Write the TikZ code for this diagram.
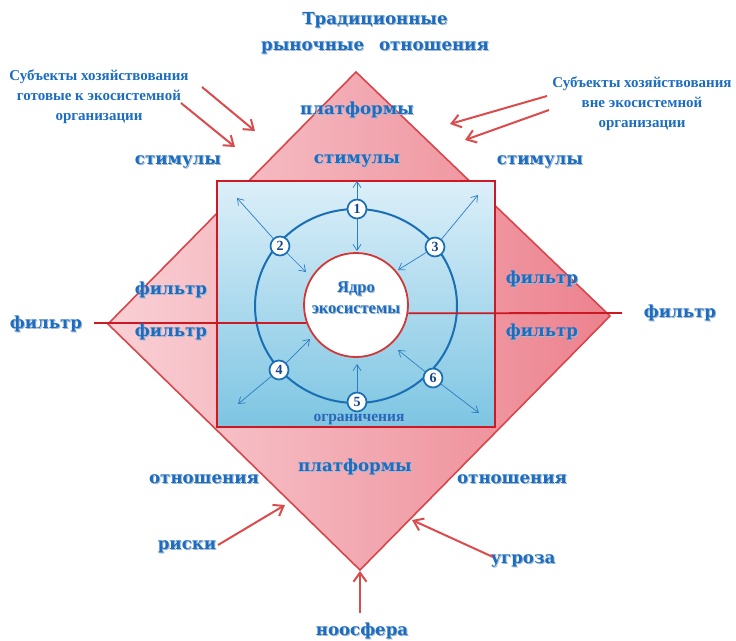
\documentclass[tikz,border=0pt]{standalone}
\usepackage{fontspec}
\setmainfont{Liberation Serif}
\newfontfamily\dvs{DejaVu Serif}
\usetikzlibrary{arrows.meta}
\definecolor{tblue}{RGB}{28,108,192}
\definecolor{shc}{RGB}{165,185,210}
\definecolor{nblue}{RGB}{20,70,140}
\definecolor{cblue}{RGB}{25,110,180}
\definecolor{ablue}{RGB}{45,125,195}
\definecolor{dred}{RGB}{215,70,75}
\definecolor{sqred}{RGB}{205,25,35}
\definecolor{cred}{RGB}{210,55,55}
\definecolor{ared}{RGB}{220,75,75}
\definecolor{pinkL}{RGB}{249,208,213}
\definecolor{pinkR}{RGB}{236,130,142}
\definecolor{sqT}{RGB}{220,239,249}
\definecolor{sqB}{RGB}{125,197,226}
\newcommand\shd[1]{\leavevmode\rlap{\kern1pt\raisebox{-1pt}{\textcolor{shc}{#1}}}#1}
\begin{document}
\begin{tikzpicture}[x=1pt,y=-1pt,
  lbl/.style={text=tblue, font=\dvs\bfseries\fontsize{16.6}{20}\selectfont, inner sep=0pt},
  small/.style={text=tblue, font=\bfseries\fontsize{15}{20}\selectfont, inner sep=0pt, align=center},
  num/.style={circle, draw=cblue, line width=1.7pt, fill=white, minimum size=19pt, inner sep=0pt, text=nblue, font=\bfseries\fontsize{14}{14}\selectfont},
  barrow/.style={draw=ablue, line width=0.7pt, -{Straight Barb[length=6pt,width=8pt]}},
  rarrow/.style={draw=ared, line width=2pt, -{Straight Barb[length=9pt,width=13pt]}},
  redline/.style={draw=sqred, line width=1.8pt}]
\useasboundingbox (0,0) rectangle (736,640);
% diamond
\shade[left color=pinkL, right color=pinkR, draw=dred, line width=1.6pt]
  (356,72) -- (610,316) -- (360,570) -- (108,324) -- cycle;
% square
\shade[top color=sqT, bottom color=sqB, draw=sqred, line width=2.5pt]
  (217,181) rectangle (495,427);
% ring
\draw[cblue, line width=2pt] (356,306) ellipse [x radius=101, y radius=97];
% core
\node[circle, draw=cred, fill=white, line width=1.8pt, minimum size=104pt, inner sep=0pt] (core) at (356,305) {};
\node[text=tblue, font=\bfseries\fontsize{16.5}{16}\selectfont, inner sep=0pt] (core1) at (356,289) {\shd{Ядро}};
\node[text=tblue, font=\bfseries\fontsize{16.5}{16}\selectfont, inner sep=0pt] (core2) at (356,310) {\shd{экосистемы}};
% horizontal line
\coordinate (hl) at (94,323);
\coordinate (hr) at (622,313);
\draw[redline] (hl) -- (core.200);
\draw[redline] (core.-9) -- (hr);
% number circles
\node[num] (n1) at (357,209) {1};
\node[num] (n2) at (280,246) {2};
\node[num] (n3) at (435,247) {3};
\node[num] (n4) at (279,370) {4};
\node[num] (n5) at (357,402) {5};
\node[num] (n6) at (433,378) {6};
\coordinate (a1o) at (357,181);
\coordinate (a1i) at (357,251);
\coordinate (a2o) at (237,198);
\coordinate (a2i) at (306,272);
\coordinate (a3o) at (478,195);
\coordinate (a3i) at (398,270);
\coordinate (a4o) at (238,404);
\coordinate (a4i) at (310,339);
\coordinate (a5i) at (357,364);
\coordinate (a6o) at (479,413);
\coordinate (a6i) at (398,350);
\draw[barrow] (n1) -- (a1o);
\draw[barrow] (n1) -- (a1i);
\draw[barrow] (n2) -- (a2o);
\draw[barrow] (n2) -- (a2i);
\draw[barrow] (n3) -- (a3o);
\draw[barrow] (n3) -- (a3i);
\draw[barrow] (n4) -- (a4o);
\draw[barrow] (n4) -- (a4i);
\draw[barrow] (n5) -- (a5i);
\draw[barrow] (n6) -- (a6o);
\draw[barrow] (n6) -- (a6i);
\node[text=tblue, font=\bfseries\fontsize{15.5}{15}\selectfont, inner sep=0pt] (ogr) at (359,420) {\shd{ограничения}};
% top texts
\node[lbl] (t1) at (375,21) {\shd{Традиционные}};
\node[lbl] (t2) at (375,48) {\shd{рыночные\hspace{0.9em}отношения}};
\node[small] (sl) at (99,97) {Субъекты хозяйствования\\готовые к экосистемной\\организации};
\node[small] (sr) at (642,104) {Субъекты хозяйствования\\вне экосистемной\\организации};
\node[lbl] (pt) at (357,110) {\shd{платформы}};
\node[lbl] (sc) at (357,161) {\shd{стимулы}};
\node[lbl] (sL) at (178,162) {\shd{стимулы}};
\node[lbl] (sR) at (540,162) {\shd{стимулы}};
% red arrows top
\coordinate (la1s) at (202,87);
\coordinate (la1e) at (255,131);
\coordinate (la2s) at (181,103);
\coordinate (la2e) at (235,147);
\coordinate (ra1s) at (547,96);
\coordinate (ra1e) at (450,124);
\coordinate (ra2s) at (549,110);
\coordinate (ra2e) at (465,140);
\draw[rarrow] (la1s) -- (la1e);
\draw[rarrow] (la2s) -- (la2e);
\draw[rarrow] (ra1s) -- (ra1e);
\draw[rarrow] (ra2s) -- (ra2e);
% filters
\node[lbl] (fo) at (46,324) {\shd{фильтр}};
\node[lbl] (fro) at (680,313) {\shd{фильтр}};
\node[lbl] (flu) at (171,290) {\shd{фильтр}};
\node[lbl] (fll) at (171,332) {\shd{фильтр}};
\node[lbl] (fru) at (542,279) {\shd{фильтр}};
\node[lbl] (frl) at (542,332) {\shd{фильтр}};
% bottom
\node[lbl] (pb) at (355,467) {\shd{платформы}};
\node[lbl] (oL) at (204,480) {\shd{отношения}};
\node[lbl] (oR) at (512,480) {\shd{отношения}};
\node[lbl] (ri) at (187,547) {\shd{риски}};
\node[lbl] (ug) at (523,561) {\shd{угроза}};
\node[lbl] (no) at (362,631) {\shd{ноосфера}};
\coordinate (ris) at (218,545);
\coordinate (rie) at (285,505);
\coordinate (ugs) at (493,557);
\coordinate (uge) at (412,520);
\coordinate (nos) at (360,613);
\coordinate (noe) at (360,571);
\draw[rarrow] (ris) -- (rie);
\draw[rarrow] (ugs) -- (uge);
\draw[rarrow] (nos) -- (noe);
\end{tikzpicture}
\end{document}
